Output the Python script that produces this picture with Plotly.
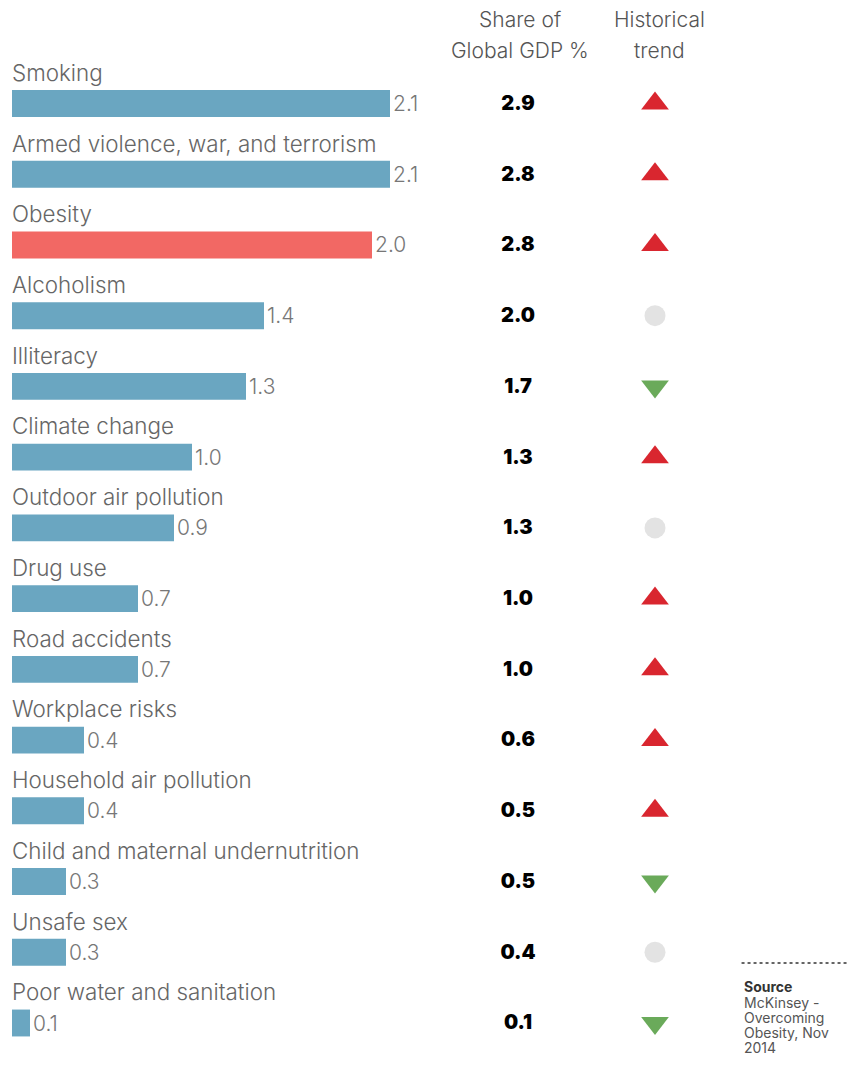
import plotly.graph_objects as go

causes = ["Smoking", "Armed violence, war, and terrorism", "Obesity", "Alcoholism",
          "Illiteracy", "Climate change", "Outdoor air pollution", "Drug use",
          "Road accidents", "Workplace risks", "Household air pollution",
          "Child and maternal undernutrition", "Unsafe sex", "Poor water and sanitation"]
impact = [2.1, 2.1, 2.0, 1.4, 1.3, 1.0, 0.9, 0.7, 0.7, 0.4, 0.4, 0.3, 0.3, 0.1]
gdp_share = [2.9, 2.8, 2.8, 2.0, 1.7, 1.3, 1.3, 1.0, 1.0, 0.6, 0.5, 0.5, 0.4, 0.1]
trend = ["up", "up", "up", "flat", "down", "up", "flat", "up", "up", "up", "up",
         "down", "flat", "down"]
highlight = "Obesity"

# page body has an 8px margin: figure origin sits at (8, 8)
OFF = 8
W, H = 857 - OFF, 1066 - OFF
BLUE, RED_BAR = "#6aa6c1", "#f26864"
LIGHT = dict(family="Inter", weight=300)

def px(x):
    return (x - OFF) / W

def py(y):
    return 1 - (y - OFF) / H

idx = list(range(len(causes)))
bar_colors = [RED_BAR if c == highlight else BLUE for c in causes]

fig = go.Figure()
fig.add_trace(go.Bar(
    x=impact, y=idx, orientation="h", width=0.38,
    marker=dict(color=bar_colors, line=dict(width=0)),
    text=[f"{v:.1f}" for v in impact], textposition="outside",
    outsidetextfont=dict(size=21, color="#777777", **LIGHT),
    cliponaxis=False, hoverinfo="skip", showlegend=False,
))
fig.add_trace(go.Scatter(
    x=[0] * len(causes), y=[i - 0.40 for i in idx], mode="text",
    text=causes, textposition="middle right",
    textfont=dict(size=22.4, color="#666666", **LIGHT),
    hoverinfo="skip", showlegend=False, cliponaxis=False,
))
fig.add_trace(go.Scatter(
    x=[0.5] * len(causes), y=[i + 0.02 for i in idx], mode="text", xaxis="x2",
    text=[f"{v:.1f}" for v in gdp_share], textposition="middle center",
    textfont=dict(size=20, color="#000000", family="Inter", weight=900),
    hoverinfo="skip", showlegend=False, cliponaxis=False,
))
sym_map = {"up": "triangle-up", "down": "triangle-down", "flat": "circle"}
col_map = {"up": "#d9262f", "down": "#6aaa5a", "flat": "#e3e3e3"}
size_map = {"up": 24, "down": 24, "flat": 21}
fig.add_trace(go.Scatter(
    x=[0.5] * len(causes), y=idx, mode="markers", xaxis="x3",
    marker=dict(symbol=[sym_map[t] for t in trend], color=[col_map[t] for t in trend],
                size=[size_map[t] for t in trend], opacity=1, line=dict(width=0)),
    hoverinfo="skip", showlegend=False, cliponaxis=False,
))

px_per_unit = 180
left = 12 - OFF
plot_w = W - left
y_px = 70.73
y_top = -(103.5 - OFF) / y_px
y_bot = 13 + (1066 - 1023) / y_px

def dom(a, b):
    return [(a - 12) / plot_w, (b - 12) / plot_w]

fig.update_layout(
    width=W, height=H, margin=dict(l=left, r=0, t=0, b=0),
    paper_bgcolor="white", plot_bgcolor="white",
    xaxis=dict(range=[0, plot_w / px_per_unit], visible=False, fixedrange=True),
    xaxis2=dict(range=[0, 1], domain=dom(478, 558), visible=False, anchor="y"),
    xaxis3=dict(range=[0, 1], domain=dom(615, 695), visible=False, anchor="y"),
    yaxis=dict(range=[y_bot, y_top], visible=False, fixedrange=True),
    font=dict(family="Inter"),
)

def header(text, x, y):
    fig.add_annotation(text=text, x=px(x), y=py(y), xref="paper", yref="paper",
                       xanchor="center", yanchor="middle", showarrow=False,
                       font=dict(size=21, color="#555555", **LIGHT))

header("Share of", 518, 20)
header("Global GDP %", 518, 50)
header("Historical", 659, 20)
header("trend", 659, 50)

fig.add_shape(type="line", xref="paper", yref="paper",
              x0=px(741), x1=1, y0=py(963), y1=py(963),
              line=dict(color="#333333", width=1.5, dash="dot"))
fig.add_annotation(text="<b>Source</b>", x=px(741), y=py(986), xref="paper", yref="paper",
                   xanchor="left", yanchor="middle", showarrow=False,
                   font=dict(size=14, color="#333333", family="Inter"))
for k, line in enumerate(["McKinsey -", "Overcoming", "Obesity, Nov", "2014"]):
    fig.add_annotation(text=line, x=px(741), y=py(1002 + 15 * k),
                       xref="paper", yref="paper", xanchor="left", yanchor="middle",
                       showarrow=False, font=dict(size=14, color="#555555", family="Inter"))

fig.write_html("out.html")
